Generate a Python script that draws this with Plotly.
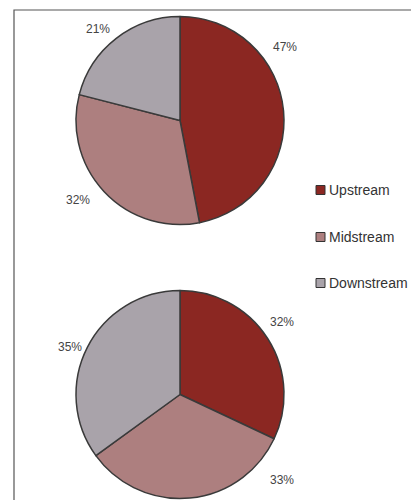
import plotly.graph_objects as go

# Share of activity by value-chain segment, two periods
categories = ["Upstream", "Midstream", "Downstream"]
top_values = [47, 32, 21]
bottom_values = [32, 33, 35]
colors = ["#8B2722", "#AD7F7F", "#A9A3AA"]

W, H = 411, 500


def px(x):
    return x / W


def py(y):
    return 1 - y / H


fig = go.Figure()

pie_common = dict(
    labels=categories,
    sort=False,
    direction="clockwise",
    rotation=0,
    textinfo="none",
    hoverinfo="label+percent",
    marker=dict(colors=colors, line=dict(color="#3a3a3a", width=1.5)),
    showlegend=False,
)

fig.add_trace(go.Pie(values=top_values,
                     domain=dict(x=[px(76), px(284)], y=[py(224.5), py(16.5)]),
                     **pie_common))
fig.add_trace(go.Pie(values=bottom_values,
                     domain=dict(x=[px(76), px(284)], y=[py(498.5), py(290.5)]),
                     **pie_common))

# Percentage labels placed beside each slice
label_font = dict(family="Liberation Sans, Arial, sans-serif", size=12, color="#444444")
top_label_pos = [(285, 47), (78, 200), (98, 29)]
bottom_label_pos = [(282, 322), (282, 480), (70, 347)]
annotations = []
for vals, positions in ((top_values, top_label_pos), (bottom_values, bottom_label_pos)):
    total = sum(vals)
    for v, (x, y) in zip(vals, positions):
        annotations.append(dict(x=px(x), y=py(y), xref="paper", yref="paper",
                                text=f"{round(100 * v / total)}%", showarrow=False,
                                font=label_font, xanchor="center", yanchor="middle"))

# Legend drawn as swatches with text
shapes = [dict(type="rect", xref="paper", yref="paper",
               x0=px(14), x1=px(412), y0=py(501), y1=py(10),
               line=dict(color="#555555", width=1.2), fillcolor="rgba(0,0,0,0)")]
legend_y = [190, 237, 283]
for cat, col, y in zip(categories, colors, legend_y):
    shapes.append(dict(type="rect", xref="paper", yref="paper",
                       x0=px(316), x1=px(325), y0=py(y + 4.5), y1=py(y - 4.5),
                       fillcolor=col, line=dict(color="#333333", width=1)))
    annotations.append(dict(x=px(327), y=py(y), xref="paper", yref="paper",
                            text=cat, showarrow=False, xanchor="left", yanchor="middle",
                            font=dict(family="Liberation Sans, Arial, sans-serif",
                                      size=14, color="#333333")))

fig.update_layout(
    width=W, height=H,
    margin=dict(l=0, r=0, t=0, b=0),
    paper_bgcolor="white",
    plot_bgcolor="white",
    shapes=shapes,
    annotations=annotations,
)

fig.write_html("out.html")
